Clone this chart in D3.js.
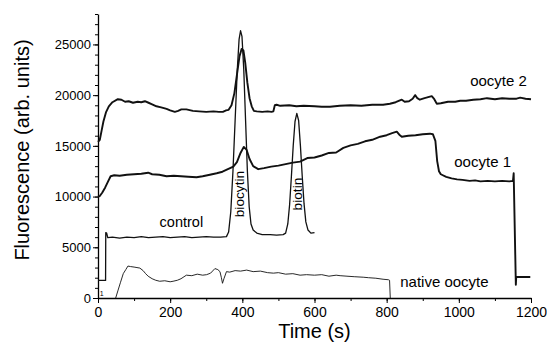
<!DOCTYPE html>
<html>
<head>
<meta charset="utf-8">
<script src="https://cdn.jsdelivr.net/npm/d3@7"></script>
<style>
  body { margin: 0; background: #fff; }
  svg { display: block; font-family: Arial, "Liberation Sans", sans-serif; }
</style>
</head>
<body>
<div id="chart"></div>
<script>
// Fluorescence traces, values as [time (s), fluorescence]

const oocyte2 = [[0,15400],[5,15600],[10,16500],[15,17400],[22,18300],[30,18900],[40,19300],[55,19600],[65,19550],[75,19350],[85,19400],[97,19250],[110,19350],[120,19300],[130,19400],[140,19250],[150,19100],[162,18900],[175,18800],[190,18650],[200,18500],[213,18350],[222,18450],[231,18600],[245,18600],[263,18450],[280,18400],[300,18350],[320,18400],[335,18350],[346,18350],[355,18500],[362,18550],[370,19000],[378,20200],[385,22000],[392,23800],[398,24550],[403,24400],[408,23200],[414,21200],[420,19700],[426,18900],[432,18450],[440,18400],[455,18350],[470,18400],[481,18350],[486,18400],[490,19000],[495,19050],[505,18950],[530,19000],[550,18900],[570,18950],[600,18900],[620,18850],[643,18850],[670,18950],[700,19000],[730,18950],[760,19050],[790,19050],[809,19150],[825,19300],[835,19450],[842,19550],[850,19350],[862,19400],[872,19650],[879,20000],[885,19700],[892,19550],[905,19700],[915,19800],[925,19900],[932,19600],[939,19150],[950,19200],[970,19350],[990,19350],[1004,19450],[1020,19450],[1040,19550],[1060,19600],[1078,19700],[1100,19600],[1120,19700],[1140,19650],[1160,19650],[1170,19750],[1185,19650],[1200,19600]];

const oocyte1 = [[0,10000],[5,10050],[12,10400],[20,10900],[28,11500],[35,12000],[45,12100],[60,12050],[80,12150],[100,12200],[120,12250],[139,12350],[150,12200],[170,12150],[190,12000],[210,12050],[230,12000],[250,11950],[273,11900],[290,12000],[310,12150],[329,12300],[345,12450],[360,12700],[375,12950],[385,13400],[395,14300],[404,14900],[412,14600],[420,13700],[430,13000],[444,12700],[460,12800],[480,12950],[500,13050],[520,13200],[540,13350],[560,13450],[580,13800],[600,13850],[620,14050],[640,14300],[660,14350],[680,14800],[700,15050],[720,15200],[740,15450],[760,15600],[782,15900],[800,16050],[815,16250],[828,16400],[835,16100],[842,15900],[860,16000],[880,16050],[900,16150],[920,16200],[928,16150],[935,15500],[940,13500],[945,12500],[950,12200],[965,11950],[980,11800],[995,11700],[1010,11650],[1030,11550],[1045,11600],[1060,11500],[1080,11550],[1100,11500],[1120,11550],[1140,11500],[1150,11550],[1152,12300],[1158,1300],[1159,2070],[1198,2070]];

const control = [[0,1730],[21,1730],[21.5,6450],[24,6400],[27,5950],[40,6000],[60,5900],[80,6000],[100,5950],[120,6050],[140,5950],[160,6000],[180,6050],[200,5950],[220,6000],[240,6050],[260,5950],[280,6000],[300,6050],[320,6000],[340,6000],[356,6050],[362,6500],[368,8500],[374,12500],[380,17500],[386,22500],[391,25500],[395,26350],[399,25800],[404,22500],[409,17500],[414,12500],[419,9000],[424,7300],[430,6700],[440,6400],[455,6250],[477,6250],[495,6200],[513,6250],[520,6400],[526,7300],[531,9200],[536,12000],[541,15000],[546,17400],[551,18200],[556,17500],[561,15000],[566,12000],[571,9300],[576,7500],[582,6700],[590,6400],[600,6450]];

const nativeOocyte = [[49,0],[55,700],[62,1500],[70,2400],[77,2800],[83,3150],[90,3100],[100,3050],[108,3000],[116,2950],[125,2700],[132,2400],[139,2150],[150,1900],[160,1750],[171,1650],[185,1700],[200,1600],[208,1650],[220,1750],[230,1900],[245,2250],[260,2200],[275,2350],[290,2250],[301,2300],[312,2450],[324,2900],[332,2800],[338,2600],[342,2000],[345,1450],[349,1900],[356,2600],[365,2550],[380,2700],[395,2650],[412,2750],[430,2600],[450,2650],[470,2500],[486,2450],[500,2500],[520,2350],[540,2400],[560,2250],[578,2300],[600,2250],[620,2300],[640,2150],[660,2250],[671,2200],[690,2150],[710,2100],[735,2050],[750,2000],[770,1950],[790,1850],[805,1800],[808,1750],[810,0]];

const xTicks = [0, 200, 400, 600, 800, 1000, 1200];
const yTicks = [0, 5000, 10000, 15000, 20000, 25000];

const width = 547,
      height = 350,
      margin = ({ top: 14, right: 16, bottom: 52, left: 98 });

let svg = d3.select("#chart")
    .append("svg")
    .attr("width", width)
    .attr("height", height);

let x = d3.scaleLinear()
    .domain([0, 1200])
    .range([margin.left, width - margin.right]);

let y = d3.scaleLinear()
    .domain([0, 28000])
    .range([height - margin.bottom, margin.top]);

// minor ticks first, then the labelled ones
svg.append("g")
    .attr("transform", `translate(0,${y(0)})`)
    .call(d3.axisBottom(x).tickValues(d3.range(0, 1201, 100)).tickSize(3).tickFormat(""))
    .call(g => g.select(".domain").remove());

svg.append("g")
    .attr("transform", `translate(0,${y(0)})`)
    .call(d3.axisBottom(x).tickValues(xTicks).tickSize(5).tickSizeOuter(0).tickPadding(4).tickFormat(d3.format("d")))
    .call(g => g.selectAll("text").attr("font-size", 14).attr("font-family", "Arial, 'Liberation Sans'"));

svg.append("g")
    .attr("transform", `translate(${x(0)},0)`)
    .call(d3.axisLeft(y).tickValues(d3.range(0, 28001, 1000)).tickSize(3).tickFormat(""))
    .call(g => g.select(".domain").remove());

svg.append("g")
    .attr("transform", `translate(${x(0)},0)`)
    .call(d3.axisLeft(y).tickValues(yTicks).tickSize(5).tickSizeOuter(0).tickPadding(2).tickFormat(d3.format("d")))
    .call(g => g.selectAll("text").attr("font-size", 13).attr("font-family", "Arial, 'Liberation Sans'"));

svg.selectAll(".domain").attr("stroke-width", 1.3);

let line = d3.line()
    .x(d => x(d[0]))
    .y(d => y(d[1]));

const traces = [
    { data: nativeOocyte, w: 0.9 },
    { data: control, w: 1.3 },
    { data: oocyte1, w: 1.9 },
    { data: oocyte2, w: 1.9 }
];

svg.selectAll(".trace")
    .data(traces)
    .join("path")
    .attr("class", "trace")
    .attr("fill", "none")
    .attr("stroke", "#111")
    .attr("stroke-linejoin", "round")
    .attr("stroke-width", d => d.w)
    .attr("d", d => line(d.data));

// trace labels
const labels = [
    { text: "oocyte 2", t: 1110, v: 20950, size: 15 },
    { text: "oocyte 1", t: 1066, v: 12900, size: 15 },
    { text: "control", t: 231, v: 7000, size: 14.5 },
    { text: "native oocyte", t: 960, v: 1080, size: 15 }
];

svg.selectAll(".lbl")
    .data(labels)
    .join("text")
    .attr("class", "lbl")
    .attr("x", d => x(d.t))
    .attr("y", d => y(d.v))
    .attr("text-anchor", "middle")
    .attr("font-size", d => d.size)
    .text(d => d.text);

const vLabels = [
    { text: "biocytin", t: 392, v: 10250 },
    { text: "biotin", t: 552, v: 10250 }
];

svg.selectAll(".vlbl")
    .data(vLabels)
    .join("text")
    .attr("class", "vlbl")
    .attr("transform", d => `translate(${x(d.t)},${y(d.v)}) rotate(-90)`)
    .attr("dy", "0.35em")
    .attr("text-anchor", "middle")
    .attr("font-size", 13.7)
    .text(d => d.text);

svg.append("text")
    .attr("x", x(5))
    .attr("y", y(0) - 2)
    .attr("font-size", 7)
    .text("1");

// axis titles
svg.append("text")
    .attr("x", (x(0) + x(1200)) / 2)
    .attr("y", 338)
    .attr("text-anchor", "middle")
    .attr("font-size", 20)
    .text("Time (s)");

svg.append("text")
    .attr("transform", `translate(29,150) rotate(-90)`)
    .attr("text-anchor", "middle")
    .attr("font-size", 20)
    .text("Fluorescence (arb. units)");
</script>
</body>
</html>
